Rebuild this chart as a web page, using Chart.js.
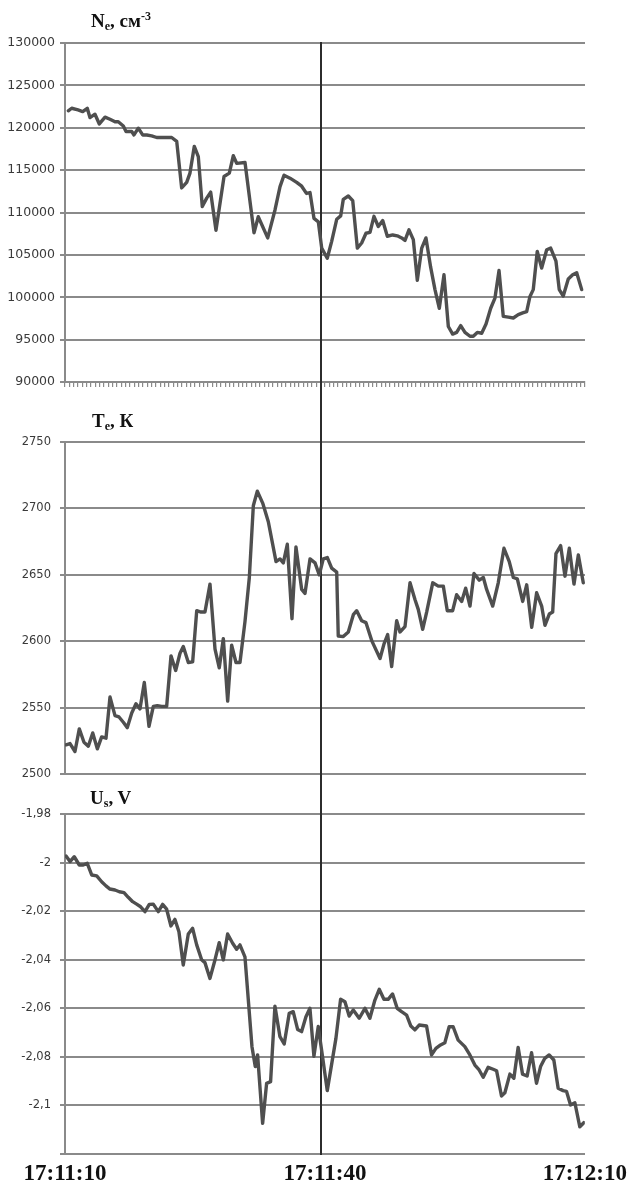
<!DOCTYPE html>
<html>
<head>
<meta charset="utf-8">
<script src="https://cdn.jsdelivr.net/npm/chart.js@4.4.1/dist/chart.umd.min.js"></script>
<style>
  html, body { margin: 0; padding: 0; background: #fff; }
  #wrap { position: relative; width: 633px; height: 1185px; overflow: hidden; background: #fff; }
  #wrap canvas { position: absolute; left: 0; }
  .ttl {
    position: absolute; white-space: nowrap; color: #111;
    font-family: 'Liberation Serif', 'Times New Roman', serif;
    font-weight: bold; font-size: 19px; line-height: 19px;
  }
  .ttl .sb { font-size: 12px; position: relative; top: 3px; }
  .ttl .sp { font-size: 12px; position: relative; top: -7px; }
</style>
</head>
<body>
<div id="wrap">
  <canvas id="neChart" width="633" height="400" style="top:0px"></canvas>
  <canvas id="teChart" width="633" height="390" style="top:400px"></canvas>
  <canvas id="usChart" width="633" height="395" style="top:790px"></canvas>
  <div class="ttl" style="left:91px; top:11px">N<span class="sb">e</span>, см<span class="sp">-3</span></div>
  <div class="ttl" style="left:92px; top:411px">T<span class="sb">e</span>, К</div>
  <div class="ttl" style="left:90px; top:788px">U<span class="sb">s</span>, V</div>
</div>
<script>
// Time is counted in seconds from 17:11:10.
const timeLabels = ['17:11:10', '17:11:40', '17:12:10'];
const eventTime = 29.5;

// Electron density Ne, cm^-3
const neTime = [0.38,0.77,1.5,2.04,2.57,2.88,3.46,3.96,4.62,5.19,
  5.77,6.15,6.73,7.04,7.7,7.96,8.46,8.96,9.43,10.0,
  10.58,12.31,12.89,13.46,14.04,14.42,14.92,15.38,15.84,16.35,
  16.81,17.42,18.35,18.96,19.42,19.81,20.77,21.81,22.3,23.39,
  24.23,24.81,25.27,25.96,26.73,27.31,27.86,28.27,28.73,29.23,
  29.62,30.26,30.77,31.35,31.81,32.11,32.69,33.2,33.73,34.23,
  34.73,35.19,35.65,36.15,36.66,37.19,37.81,38.34,38.85,39.23,
  39.69,40.19,40.65,41.16,41.65,42.19,42.69,43.19,43.73,44.23,
  44.73,45.19,45.66,46.15,46.73,47.11,47.57,48.08,48.58,49.12,
  49.61,50.08,50.57,51.15,51.73,52.3,52.81,53.27,53.65,54.03,
  54.49,55.0,55.58,56.04,56.65,57.03,57.49,58.07,58.58,59.04,59.62];
const neValue = [122000,122300,122100,121900,122300,121200,121600,120450,121250,121000,
  120700,120700,120200,119550,119550,119150,119950,119150,119150,119050,
  118850,118850,118400,112900,113550,114650,117800,116600,110700,111700,
  112400,107900,114250,114650,116700,115800,115900,107600,109500,107000,
  110300,113050,114400,114050,113550,113100,112250,112350,109300,108900,
  105800,104600,106600,109200,109600,111550,111950,111400,105800,106400,
  107550,107650,109550,108350,109050,107200,107350,107250,107000,106700,
  107950,106800,102000,105800,107000,103550,100900,98700,102650,96550,
  95650,95850,96650,95850,95400,95400,95850,95750,96850,98700,
  99900,103150,97750,97650,97550,97950,98150,98300,100100,100900,
  105400,103450,105600,105800,104250,100900,100150,102150,102650,102900,100900];

// Electron temperature Te, K
const teTime = [0.12,0.58,1.15,1.65,2.19,2.69,3.2,3.73,4.23,4.73,
  5.19,5.77,6.23,6.73,7.19,7.7,8.19,8.65,9.15,9.69,
  10.19,10.65,11.16,11.73,12.23,12.77,13.27,13.65,14.23,14.73,
  15.2,15.69,16.15,16.73,17.31,17.8,18.27,18.77,19.23,19.73,
  20.19,20.77,21.27,21.73,22.19,22.81,23.46,24.35,24.81,25.19,
  25.65,26.19,26.65,27.31,27.69,28.27,28.85,29.34,29.8,30.27,
  30.77,31.35,31.53,32.11,32.69,33.27,33.66,34.23,34.73,35.39,
  36.35,36.81,37.23,37.69,38.27,38.65,39.23,39.81,40.38,40.76,
  41.27,41.73,42.43,43.07,43.65,44.11,44.73,45.19,45.77,46.23,
  46.73,47.19,47.8,48.27,48.65,49.35,49.99,50.65,51.26,51.73,
  52.19,52.81,53.27,53.85,54.42,55.0,55.38,55.88,56.27,56.65,
  57.19,57.69,58.19,58.73,59.23,59.8];
const teValue = [2522,2523,2517,2534,2524,2521,2531,2519,2528,2527,
  2558,2544,2543,2539,2535,2546,2553,2549,2569,2536,
  2551,2551.5,2551,2551,2589,2578,2591,2596,2584,2584.5,
  2623,2622,2622,2643,2594,2580,2602,2555,2597,2584,
  2584,2615,2648,2702,2713,2704,2690,2660,2662,2659,
  2673,2617,2671,2639,2636,2662,2659,2650,2662,2663,
  2655,2652,2604,2603.5,2607,2620,2623,2615.5,2614,2600.5,
  2587,2598,2605,2581,2615.5,2607,2611,2644,2631.5,2624,
  2609,2622,2644,2641.5,2641.5,2623,2623,2635,2630,2640,
  2626.5,2651,2646,2648,2639,2626.5,2644,2670,2660,2648,
  2647,2630,2642.5,2610.5,2636.5,2626.5,2612,2620.5,2622,2666,
  2672,2649,2670,2643,2665,2644];

// Probe potential Us, V
const usTime = [0.12,0.58,1.07,1.65,2.11,2.57,3.08,3.66,4.23,4.73,
  5.19,5.77,6.27,6.81,7.3,7.81,8.27,8.73,9.23,9.73,
  10.19,10.77,11.27,11.73,12.23,12.69,13.15,13.65,14.23,14.73,
  15.2,15.77,16.15,16.73,17.31,17.8,18.27,18.77,19.35,19.81,
  20.19,20.77,21.58,21.96,22.23,22.81,23.27,23.73,24.23,24.81,
  25.3,25.88,26.34,26.85,27.31,27.81,28.27,28.73,29.23,29.73,
  30.27,31.27,31.81,32.31,32.8,33.27,33.96,34.62,35.19,35.77,
  36.27,36.81,37.3,37.81,38.34,38.85,39.43,39.92,40.38,40.88,
  41.73,42.31,42.81,43.35,43.84,44.34,44.8,45.38,46.15,46.73,
  47.31,47.8,48.27,48.84,49.42,49.81,50.38,50.77,51.35,51.81,
  52.3,52.81,53.34,53.85,54.42,54.89,55.38,55.88,56.42,56.92,
  57.49,57.88,58.35,58.85,59.42,59.88];
const usValue = [-1.9973,-1.9996,-1.9976,-2.0010,-2.0010,-2.0003,-2.0051,-2.0055,-2.0079,-2.0096,
  -2.0109,-2.0113,-2.0120,-2.0124,-2.0143,-2.0161,-2.0171,-2.0182,-2.0202,-2.0172,
  -2.0171,-2.0202,-2.0172,-2.0192,-2.0261,-2.0234,-2.0285,-2.0422,-2.0294,-2.0271,
  -2.0339,-2.0400,-2.0412,-2.0477,-2.0401,-2.0330,-2.0401,-2.0294,-2.0332,-2.0357,
  -2.0339,-2.0388,-2.0758,-2.0840,-2.0792,-2.1074,-2.0909,-2.0902,-2.0591,-2.0717,
  -2.0747,-2.0621,-2.0614,-2.0687,-2.0696,-2.0635,-2.0600,-2.0798,-2.0675,-2.0801,
  -2.0939,-2.0724,-2.0563,-2.0573,-2.0632,-2.0607,-2.0641,-2.0600,-2.0641,-2.0566,
  -2.0522,-2.0563,-2.0563,-2.0541,-2.0600,-2.0614,-2.0628,-2.0673,-2.0689,-2.0669,
  -2.0673,-2.0792,-2.0765,-2.0751,-2.0742,-2.0676,-2.0676,-2.0731,-2.0758,-2.0792,
  -2.0834,-2.0854,-2.0884,-2.0843,-2.0851,-2.0857,-2.0961,-2.0948,-2.0871,-2.0888,
  -2.0761,-2.0871,-2.0879,-2.0783,-2.0909,-2.0840,-2.0806,-2.0792,-2.0813,-2.0929,
  -2.0939,-2.0942,-2.0998,-2.0989,-2.1088,-2.1071];

const GRID = '#8a8a8a';
const LINE = '#4f4f4f';
const PLOT_LEFT = 65;      // width reserved for the value axis
const PAD_RIGHT = 48;

function series(times, values) {
  return times.map((t, i) => ({ x: t, y: values[i] }));
}

// Horizontal lines at every value tick of the panel.
const valueGrid = {
  id: 'valueGrid',
  beforeDatasetsDraw(chart) {
    const { ctx, chartArea } = chart;
    const ys = chart.scales.y;
    ctx.save();
    ctx.strokeStyle = GRID;
    ctx.lineWidth = 2;
    ys.ticks.forEach(t => {
      const y = Math.round(ys.getPixelForValue(t.value));
      ctx.beginPath();
      ctx.moveTo(chartArea.left - 5, y);
      ctx.lineTo(chartArea.right, y);
      ctx.stroke();
    });
    ctx.restore();
  }
};

// Vertical event marker shared by the three panels; it runs to the canvas
// edges between panels so that it reads as one continuous line.
const eventMarker = {
  id: 'eventMarker',
  beforeDatasetsDraw(chart, args, opts) {
    const { ctx, chartArea } = chart;
    const x = Math.round(chart.scales.x.getPixelForValue(eventTime));
    const y0 = opts.fullTop ? 0 : chartArea.top - 1;
    const y1 = opts.fullBottom ? chart.height : chartArea.bottom + 1;
    ctx.save();
    ctx.strokeStyle = '#2c2c2c';
    ctx.lineWidth = 2;
    ctx.beginPath();
    ctx.moveTo(x, y0);
    ctx.lineTo(x, y1);
    ctx.stroke();
    ctx.restore();
  }
};

function makePanel(id, p) {
  return new Chart(document.getElementById(id), {
    type: 'line',
    data: {
      datasets: [{
        data: series(p.times, p.values),
        borderColor: LINE,
        borderWidth: 3.4,
        borderJoinStyle: 'round',
        borderCapStyle: 'round',
        pointRadius: 0,
        tension: 0,
        fill: false
      }]
    },
    plugins: [valueGrid, eventMarker],
    options: {
      responsive: false,
      animation: false,
      devicePixelRatio: 1,
      layout: { padding: { top: p.padTop, right: PAD_RIGHT, left: 0, bottom: 0 } },
      plugins: {
        legend: { display: false },
        tooltip: { enabled: false },
        eventMarker: p.marker
      },
      scales: {
        x: Object.assign({ type: 'linear', min: 0, max: 60 }, p.x),
        y: {
          min: p.min,
          max: p.max,
          ticks: {
            stepSize: p.step,
            padding: p.labelPad,
            color: '#3a3a3a',
            font: { family: 'DejaVu Sans', size: p.fontSize },
            callback: p.format
          },
          grid: { display: true, drawOnChartArea: false, color: GRID, lineWidth: 2, tickLength: 5, drawTicks: true },
          border: { display: true, color: GRID, width: 2 },
          afterFit(scale) { scale.width = PLOT_LEFT; }
        }
      }
    }
  });
}

const plainFormat = v => String(v);

// Ne panel: minor tick marks every half second under the plot
makePanel('neChart', {
  times: neTime, values: neValue,
  min: 90000, max: 130000, step: 5000,
  fontSize: 12.5, labelPad: 5, padTop: 43,
  format: plainFormat,
  marker: { fullTop: false, fullBottom: true },
  x: {
    ticks: { stepSize: 0.5, autoSkip: false, maxRotation: 0, padding: 0, callback: () => '' },
    grid: { drawOnChartArea: false, drawTicks: true, tickLength: 5, color: GRID, lineWidth: 1.2 },
    border: { display: true, color: GRID, width: 2 },
    afterFit(scale) { scale.height = 18; }
  }
});

// Te panel
makePanel('teChart', {
  times: teTime, values: teValue,
  min: 2500, max: 2750, step: 50,
  fontSize: 11.5, labelPad: 9, padTop: 42,
  format: plainFormat,
  marker: { fullTop: true, fullBottom: true },
  x: {
    ticks: { display: false },
    grid: { display: false, drawTicks: false },
    border: { display: true, color: GRID, width: 2 },
    afterFit(scale) { scale.height = 11; }
  }
});

// Us panel, with the time axis labels
makePanel('usChart', {
  times: usTime, values: usValue,
  min: -2.12, max: -1.98, step: 0.02,
  fontSize: 11.5, labelPad: 9, padTop: 24,
  format: v => (Math.abs(v + 2.12) < 1e-6 ? '' : String(Math.round(v * 100) / 100).replace('.', ',')),
  marker: { fullTop: true, fullBottom: false },
  x: {
    ticks: {
      stepSize: 30, autoSkip: false, maxRotation: 0, padding: 6,
      color: '#111',
      font: { family: 'Liberation Serif', weight: 'bold', size: 23 },
      callback: v => timeLabels[Math.round(v / 30)]
    },
    grid: { display: false, drawTicks: false },
    border: { display: true, color: GRID, width: 2 },
    afterFit(scale) { scale.height = 31; }
  }
});
</script>
</body>
</html>
